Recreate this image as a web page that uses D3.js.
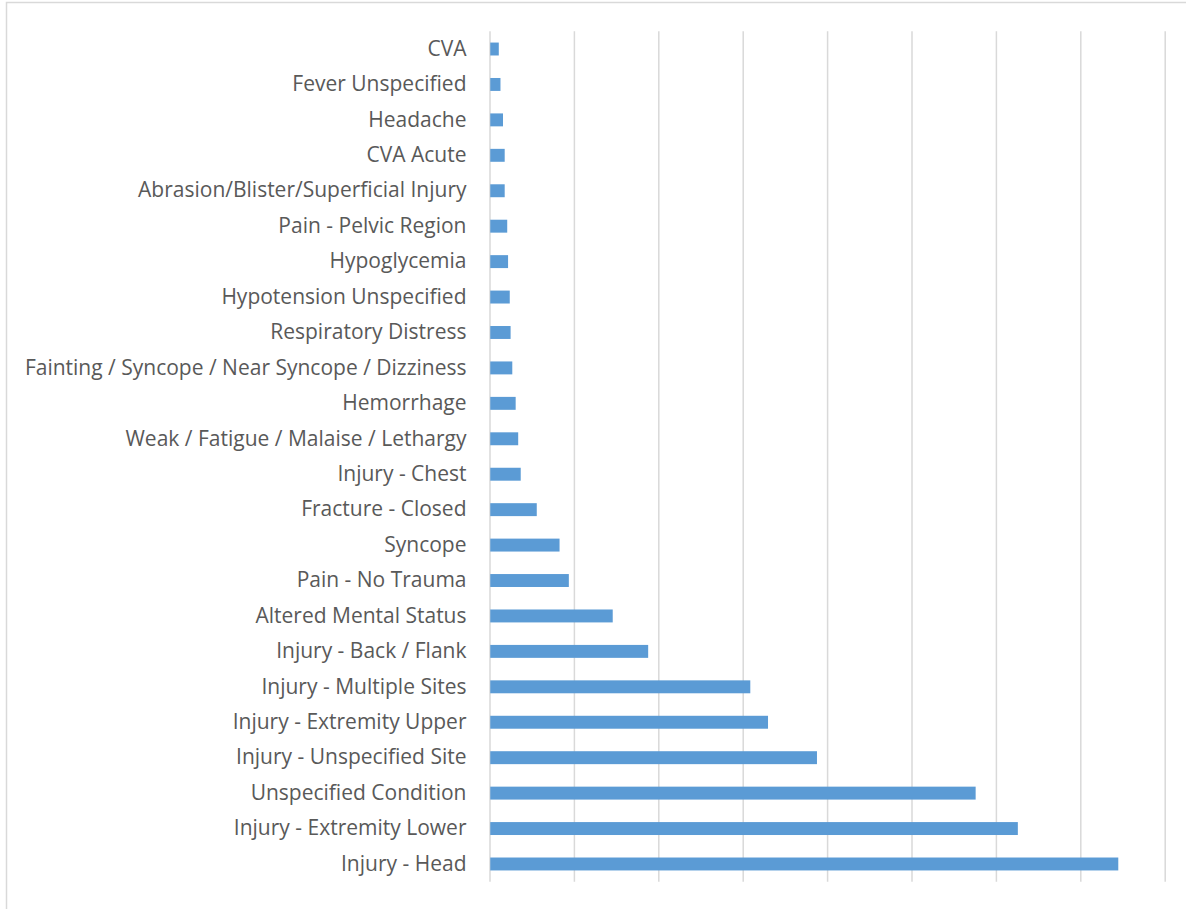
<!DOCTYPE html>
<html>
<head>
<meta charset="utf-8">
<script src="https://cdn.jsdelivr.net/npm/d3@7"></script>
<style>
  body { margin: 0; background: #fff; }
  svg { display: block; }
</style>
</head>
<body>
<svg id="base" width="1186" height="909"></svg>
<script>
(function () {
    // categories, top to bottom as shown
    const categories = [
        "CVA",
        "Fever Unspecified",
        "Headache",
        "CVA Acute",
        "Abrasion/Blister/Superficial Injury",
        "Pain - Pelvic Region",
        "Hypoglycemia",
        "Hypotension Unspecified",
        "Respiratory Distress",
        "Fainting / Syncope / Near Syncope / Dizziness",
        "Hemorrhage",
        "Weak / Fatigue / Malaise / Lethargy",
        "Injury - Chest",
        "Fracture - Closed",
        "Syncope",
        "Pain - No Trauma",
        "Altered Mental Status",
        "Injury - Back / Flank",
        "Injury - Multiple Sites",
        "Injury - Extremity Upper",
        "Injury - Unspecified Site",
        "Unspecified Condition",
        "Injury - Extremity Lower",
        "Injury - Head",
    ];

    // (gridline step = 100)
    const values = [
        11, 13, 16, 18, 18, 21, 22, 24, 25, 27, 31, 34,
        37, 56, 83, 94, 146, 188, 309, 330, 388, 576, 626, 745,
    ];

    const xTicks = [0, 100, 200, 300, 400, 500, 600, 700, 800];

    const data = categories.map((c, i) => ({ name: c, value: values[i] }));

    const base = d3.select("#base");

    // chart area border
    base.append("rect")
        .attr("x", 6.5)
        .attr("y", 2.5)
        .attr("width", 1300)
        .attr("height", 1000)
        .attr("fill", "none")
        .attr("stroke", "#d9d9d9")
        .attr("stroke-width", 1.5);

    const left = 489.5;
    const right = 1164.7;
    const top = 31.3;
    const bottom = 881.7;

    const x = d3.scaleLinear().domain([0, 800]).range([left, right]);

    const y = d3.scaleBand()
        .domain(categories)
        .range([top, bottom])
        .paddingInner(0.635)
        .paddingOuter(0.3175);

    // gridlines
    const grid = base.append("g")
        .attr("transform", `translate(0,${bottom})`)
        .call(d3.axisBottom(x).tickValues(xTicks).tickSize(-(bottom - top)).tickFormat(""));
    grid.select(".domain").remove();
    grid.selectAll(".tick line")
        .attr("stroke", "#d9d9d9")
        .attr("stroke-width", 1.5);

    // bars
    base.append("g")
        .selectAll("rect")
        .data(data)
        .enter()
        .append("rect")
        .attr("x", x(0) + 0.75)
        .attr("y", (d) => y(d.name))
        .attr("width", (d) => x(d.value) - x(0) - 0.75)
        .attr("height", y.bandwidth())
        .attr("fill", "#5b9bd5");

    // category labels
    const yAxis = base.append("g")
        .attr("transform", `translate(${left},0)`)
        .call(d3.axisLeft(y).tickSize(0).tickPadding(23));
    yAxis.select(".domain").remove();
    yAxis.selectAll("text")
        .attr("fill", "#595959")
        .style("font-family", "'Open Sans', sans-serif")
        .style("font-size", "21px");
})();
</script>
</body>
</html>
